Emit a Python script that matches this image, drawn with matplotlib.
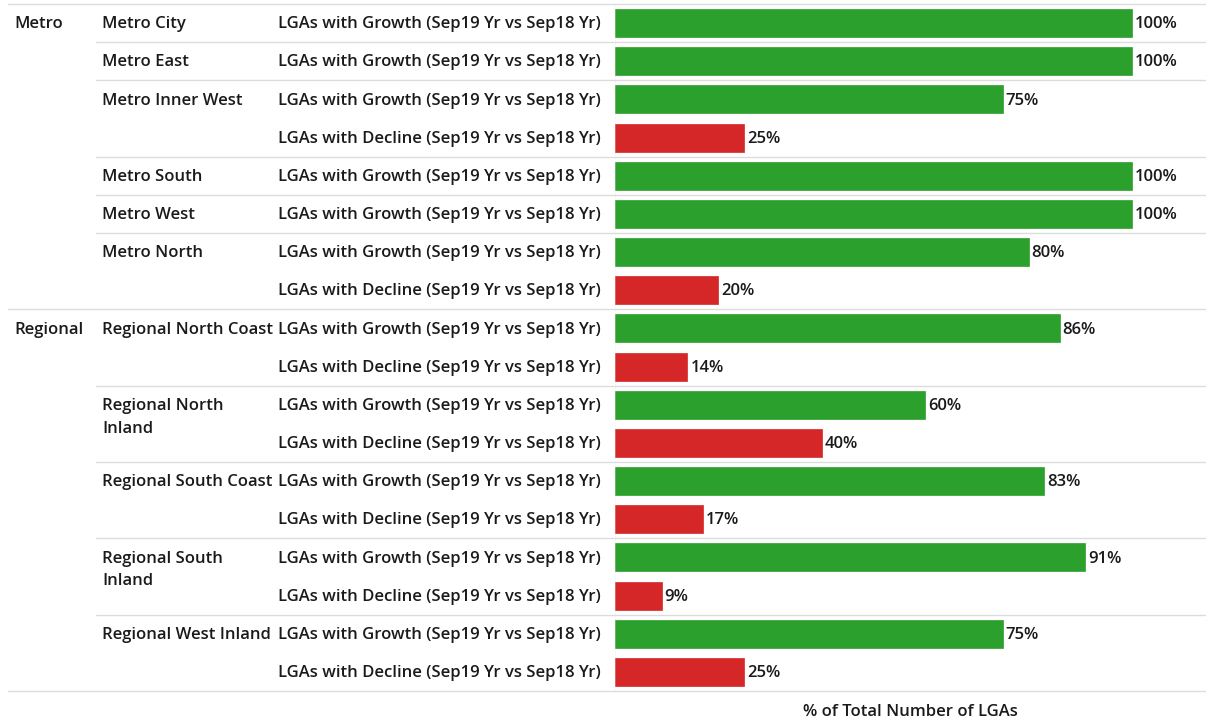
import matplotlib
matplotlib.use("Agg")
import matplotlib.pyplot as plt
from matplotlib.transforms import blended_transform_factory

plt.rcParams['font.family'] = ['Open Sans', 'DejaVu Sans']
plt.rcParams['font.weight'] = 'semibold'

regions = ["Metro", "Regional"]
subregions = ["Metro City", "Metro East", "Metro Inner West", "Metro South", "Metro West",
              "Metro North", "Regional North Coast", "Regional North\nInland",
              "Regional South Coast", "Regional South\nInland", "Regional West Inland"]
subregion_parent = ["Metro"] * 6 + ["Regional"] * 5
growth = [100, 100, 75, 100, 100, 80, 86, 60, 83, 91, 75]
decline = [None, None, 25, None, None, 20, 14, 40, 17, 9, 25]
growth_label = "LGAs with Growth (Sep19 Yr vs Sep18 Yr)"
decline_label = "LGAs with Decline (Sep19 Yr vs Sep18 Yr)"
x_title = "% of Total Number of LGAs"

GREEN = "#2ca02c"
RED = "#d62728"
TXT = "#1a1a1a"
GRID = "#dcdcdc"
FS = 12.0

W, H = 1206, 725
fig = plt.figure(figsize=(W / 100, H / 100), dpi=100)
ax_left = 615 / W
ax_right = 1.0
ax_top = 1 - 4 / H
ax_bottom = 1 - 691 / H
ax = fig.add_axes([ax_left, ax_bottom, ax_right - ax_left, ax_top - ax_bottom])

# build rows
rows = []  # (sub index, label, value, color)
for i, sub in enumerate(subregions):
    rows.append((i, growth_label, growth[i], GREEN))
    if decline[i] is not None:
        rows.append((i, decline_label, decline[i], RED))
n = len(rows)
ys = list(range(n))
vals = [r[2] for r in rows]
cols = [r[3] for r in rows]

ax.barh(ys, vals, height=0.73, color=cols, edgecolor=cols, linewidth=0.5)
xmax = 100 * (W - 615) / 517
ax.set_xlim(0, xmax)
ax.set_ylim(n - 0.5, -0.5)
for s in ax.spines.values():
    s.set_visible(False)
ax.set_xticks([])
ax.set_yticks([])

for y, v in zip(ys, vals):
    ax.text(v + 0.6, y + 0.03, f"{v}%", va="center", ha="left", fontsize=FS, color=TXT)

tr = blended_transform_factory(fig.transFigure, ax.transData)

# row labels
prev_sub = None
prev_parent = None
for y, (si, lab, v, c) in enumerate(rows):
    ax.text(278 / W, y + 0.03, lab, transform=tr, va="center", ha="left", fontsize=FS, color=TXT)
    if si != prev_sub:
        sub = subregions[si]
        parts = sub.split("\n")
        ax.text(102 / W, y + 0.03, parts[0], transform=tr, va="center", ha="left", fontsize=FS, color=TXT)
        if len(parts) > 1:
            ax.text(102 / W, y + 0.63, parts[1], transform=tr, va="center", ha="left", fontsize=FS, color=TXT)
        parent = subregion_parent[si]
        if parent != prev_parent:
            ax.text(14 / W, y + 0.03, parent, transform=tr, va="center", ha="left", fontsize=FS, color=TXT)
            if y > 0:
                ax.plot([8 / W, 1], [y - 0.5, y - 0.5], transform=tr, color=GRID, lw=1, clip_on=False)
        elif y > 0:
            ax.plot([96 / W, 1], [y - 0.5, y - 0.5], transform=tr, color=GRID, lw=1, clip_on=False)
        prev_parent = parent
    prev_sub = si

# top / bottom borders
ax.plot([8 / W, 1], [-0.5, -0.5], transform=tr, color=GRID, lw=1, clip_on=False)
ax.plot([8 / W, 1], [n - 0.5, n - 0.5], transform=tr, color=GRID, lw=1, clip_on=False)
ax.axvline(-0.2, color=GRID, lw=1)

fig.text((615 + 1206) / 2 / W, 1 - 712 / H, x_title, ha="center", va="center", fontsize=FS, color=TXT)

fig.savefig("out.png", dpi=100)
